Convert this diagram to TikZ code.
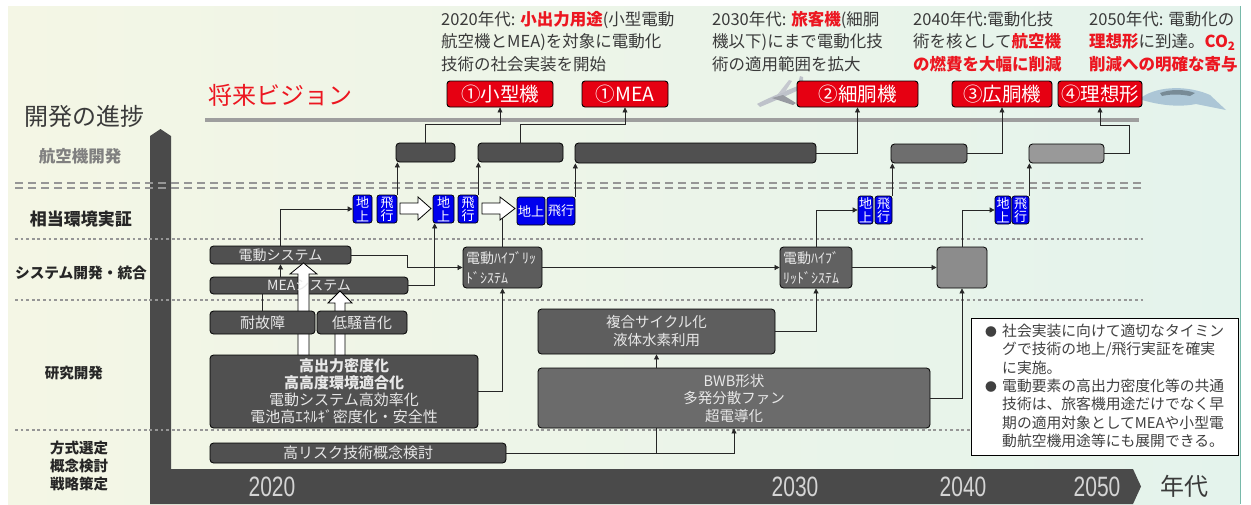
\documentclass[tikz,border=0pt]{standalone}
\usepackage{fontspec}
\setmainfont{Noto Sans CJK JP}
\newfontfamily\yearfont{Liberation Sans}
\usetikzlibrary{arrows.meta}

\definecolor{bgleft}{RGB}{244,246,229}
\definecolor{bgright}{RGB}{228,243,236}
\definecolor{tealedge}{RGB}{120,185,170}
\definecolor{txtdark}{RGB}{58,58,58}
\definecolor{vred}{RGB}{236,22,32}
\definecolor{boxred}{RGB}{230,0,18}
\definecolor{vblue}{RGB}{0,0,238}
\definecolor{boxgray}{RGB}{80,80,80}
\definecolor{boxtxt}{RGB}{232,232,232}
\definecolor{axisgray}{RGB}{74,74,74}
\definecolor{sepgray}{RGB}{150,150,150}
\definecolor{planegray}{RGB}{190,194,202}
\definecolor{planeblue}{RGB}{172,198,214}

\tikzset{
  conn/.style={draw=black!85, line width=0.7pt, -{Triangle[length=5pt,width=5pt]}},
  link/.style={draw=black!85, line width=0.7pt},
  gbox/.style={draw=black, line width=0.8pt, rounded corners=3.5pt, fill=boxgray,
    text=boxtxt, inner sep=0pt, align=center, font=\fontsize{15}{17}\selectfont},
  redbox/.style={draw=black, line width=0.9pt, rounded corners=3pt, fill=boxred,
    text=white, inner sep=0pt, minimum height=26pt, font=\fontsize{19.5}{19.5}\selectfont},
  bluebox/.style={draw=black, line width=0.7pt, rounded corners=2.5pt, fill=vblue,
    text=white, inner sep=0pt, align=center, minimum height=28pt,
    font=\fontsize{13}{13.5}\selectfont},
  hollow/.style={draw=black, line width=0.8pt, fill=white},
  toptext/.style={anchor=north west, inner sep=0pt, align=left, text=txtdark,
    font=\fontsize{16.5}{22.5}\selectfont},
  rowlabel/.style={inner sep=0pt, align=center, text=black!85,
    font=\bfseries\fontsize{15}{18}\selectfont},
  yearlabel/.style={inner sep=0pt, text=black!17, font=\yearfont\fontsize{28}{28}\selectfont},
  dashsep/.style={draw=sepgray, line width=2.2pt, dash pattern=on 8pt off 5pt},
  dotsep/.style={draw=sepgray, line width=2.8pt, dash pattern=on 2.8pt off 2.8pt},
}

\begin{document}
\begin{tikzpicture}[x=1pt,y=-1pt]
\useasboundingbox (0,0) rectangle (1251,504);
% background
\fill[white] (0,0) rectangle (1251,504);
\shade[left color=bgleft, right color=bgright] (8,6) rectangle (1240,504);
\draw[tealedge, line width=1.5pt] (1240.5,6) -- (1240.5,504);

% time axis
\fill[axisgray] (150,136) -- (160.5,129) -- (171,136) -- (171,469) -- (1133,469)
  -- (1141,486.5) -- (1133,504) -- (150,504) -- cycle;

% row separators
\draw[dashsep] (15,183) -- (1143,183);
\draw[dashsep] (15,188) -- (1143,188);
\draw[dotsep] (15,239) -- (1143,239);
\draw[dotsep] (15,300) -- (1143,300);
\draw[dotsep] (15,430) -- (1143,430);

% vision line
\draw[black!38, line width=4pt] (205,120) -- (1139,120);

% headings on the left
\node[inner sep=0pt, text=txtdark, font=\fontsize{24}{24}\selectfont] (title) at (84,116) {開発の進捗};
\node[rowlabel, text=black!50, font=\bfseries\fontsize{16.5}{18}\selectfont] (lab1) at (80,156) {航空機開発};
\node[rowlabel, font=\bfseries\fontsize{17}{18}\selectfont] (lab2) at (81,219) {相当環境実証};
\node[rowlabel, font=\bfseries\fontsize{14.7}{18}\selectfont] (lab3) at (81,273) {システム開発・統合};
\node[rowlabel, font=\bfseries\fontsize{14.5}{18}\selectfont] (lab4) at (74,373) {研究開発};
\node[rowlabel, font=\bfseries\fontsize{14.5}{18}\selectfont] (lab5) at (79,466) {方式選定\\概念検討\\戦略策定};

% years
\node[yearlabel] (y2020) at (272,487) {\scalebox{0.75}[1]{2020}};
\node[yearlabel] (y2030) at (795,487) {\scalebox{0.75}[1]{2030}};
\node[yearlabel] (y2040) at (963,487) {\scalebox{0.75}[1]{2040}};
\node[yearlabel] (y2050) at (1097,487) {\scalebox{0.75}[1]{2050}};
\node[inner sep=0pt, text=txtdark, font=\fontsize{24}{24}\selectfont] (nendai) at (1184,486) {年代};

% future vision
\node[inner sep=0pt, text=vred, font=\fontsize{24}{24}\selectfont] (vision) at (280,95) {将来ビジョン};

\node[toptext] (t2020) at (441,11) {2020年代: \textcolor{vred}{\bfseries 小出力用途}(小型電動\\航空機とMEA)を対象に電動化\\技術の社会実装を開始};
\node[toptext] (t2030) at (712,11) {2030年代: \textcolor{vred}{\bfseries 旅客機}(細胴\\機以下)にまで電動化技\\術の適用範囲を拡大};
\node[toptext] (t2040) at (913,11) {2040年代:電動化技\\術を核として\textcolor{vred}{\bfseries 航空機}\\\textcolor{vred}{\bfseries の燃費を大幅に削減}};
\node[toptext] (t2050) at (1089,11) {2050年代: 電動化の\\\textcolor{vred}{\bfseries 理想形}に到達。\textcolor{vred}{\bfseries CO\textsubscript{2}}\\\textcolor{vred}{\bfseries 削減への明確な寄与}};

% aircraft silhouettes
\fill[planegray] (757,104) .. controls (770,97) and (790,89) .. (803,84) -- (805,87)
  .. controls (791,94) and (772,102) .. (760,107) -- cycle;
\fill[planegray!80!black] (772,98) -- (793,105) -- (796,103) -- (783,95) -- cycle;
\fill[planegray!90!white] (778,94) -- (789,80) -- (792,81) -- (785,92) -- cycle;
\fill[planegray] (797,87) -- (800,76) -- (803,77) -- (803,86) -- cycle;
\fill[planeblue] (1142,97) .. controls (1160,85) and (1190,86) .. (1210,95)
  -- (1226,110) -- (1196,104) .. controls (1176,108) and (1156,104) .. (1142,100) -- cycle;
\fill[planeblue!70!black] (1160,93) .. controls (1170,89) and (1185,89) .. (1195,93)
  -- (1190,96) .. controls (1180,94) and (1170,94) .. (1162,96) -- cycle;

% vision targets
\node[redbox, minimum width=106pt] (r1) at (500,94) {①小型機};
\node[redbox, minimum width=86pt] (r2) at (625,94) {①MEA};
\node[redbox, minimum width=121pt] (r3) at (857.5,94) {②細胴機};
\node[redbox, minimum width=100pt] (r4) at (1002,94) {③広胴機};
\node[redbox, minimum width=84pt] (r5) at (1100,94) {④理想形};

% aircraft development
\node[gbox, minimum width=59pt, minimum height=19pt] (ac1) at (425.5,152.5) {};
\node[gbox, minimum width=85pt, minimum height=19pt] (ac2) at (520.5,152.5) {};
\node[gbox, minimum width=241pt, minimum height=20pt] (ac3) at (695.5,153) {};
\node[gbox, fill=black!57, minimum width=76pt, minimum height=19pt] (ac4) at (929,153.5) {};
\node[gbox, fill=black!40, minimum width=75pt, minimum height=19pt] (ac5) at (1066.5,153.5) {};

% ground and flight demonstrations
\node[bluebox, minimum width=19pt] (b1a) at (362.5,209) {地\\上};
\node[bluebox, minimum width=20pt] (b1b) at (387,209) {飛\\行};
\node[bluebox, minimum width=21pt] (b2a) at (443.5,209) {地\\上};
\node[bluebox, minimum width=20pt] (b2b) at (468,209) {飛\\行};
\node[bluebox, minimum width=28pt] (b3a) at (531,211) {地上};
\node[bluebox, minimum width=28pt] (b3b) at (561,211) {飛行};
\node[bluebox, minimum width=15pt] (b4a) at (865.5,210) {地\\上};
\node[bluebox, minimum width=17pt] (b4b) at (883.5,210) {飛\\行};
\node[bluebox, minimum width=16pt] (b5a) at (1003,210) {地\\上};
\node[bluebox, minimum width=17pt] (b5b) at (1020.5,210) {飛\\行};

% system development and integration
\node[gbox, minimum width=141pt, minimum height=18pt, font=\fontsize{14}{16}\selectfont] (es) at (280.5,255) {電動システム};
\node[gbox, minimum width=198pt, minimum height=17pt] (mea) at (309,285.5) {};
\node[gbox, fill=black!64, minimum height=41pt, inner xsep=3pt, text width=73pt, align=left,
  font=\fontsize{14}{20}\selectfont] (hy1) at (502.5,267.5) {電動ﾊｲﾌﾞﾘｯ\\ﾄﾞｼｽﾃﾑ};
\node[gbox, fill=black!62, minimum height=41pt, inner xsep=3pt, text width=66pt, align=left,
  font=\fontsize{14}{20}\selectfont] (hy2) at (816,267.5) {電動ﾊｲﾌﾞ\\ﾘｯﾄﾞｼｽﾃﾑ};
\node[gbox, fill=black!45, minimum width=50pt, minimum height=41pt] (gb) at (962,267.5) {};

% connectors that run under the hollow arrows
\draw[link] (hy1.north) -- (502.5,212);

% hollow arrows
\filldraw[hollow] (400,203) -- (418,203) -- (418,197) -- (431,208.5) -- (418,220) -- (418,214) -- (400,214) -- cycle;
\filldraw[hollow] (482,203) -- (500,203) -- (500,197) -- (515,208.5) -- (500,220) -- (500,214) -- (482,214) -- cycle;
\filldraw[hollow] (298,357) -- (298,274) -- (290,274) -- (303.5,263) -- (317,274) -- (309,274) -- (309,357) -- cycle;
\filldraw[hollow] (335,357) -- (335,303) -- (328,303) -- (340,291) -- (352,303) -- (345,303) -- (345,357) -- cycle;

% label of the MEA system box, set above the hollow arrow
\node[inner sep=0pt, text=boxtxt, font=\fontsize{14}{16}\selectfont] (mealabel) at (mea) {MEAシステム};

% research and development
\node[gbox, minimum width=105pt, minimum height=23pt] (tk) at (262.5,322.5) {耐故障};
\node[gbox, minimum width=90pt, minimum height=23pt] (ls) at (362,322.5) {低騒音化};
\node[gbox, minimum width=268pt, minimum height=73pt] (hp) at (344,391.5)
  {{\bfseries 高出力密度化}\\{\bfseries 高高度環境適合化}\\電動システム高効率化\\電池高ｴﾈﾙｷﾞ密度化・安全性};
\node[gbox, fill=black!63, minimum width=237pt, minimum height=45pt, font=\fontsize{14.5}{18}\selectfont] (fc) at (656.5,331.5)
  {複合サイクル化\\液体水素利用};
\node[gbox, fill=black!58, minimum width=392pt, minimum height=60pt, font=\fontsize{14.5}{17.5}\selectfont] (bwb) at (734,398)
  {BWB形状\\多発分散ファン\\超電導化};
\node[gbox, minimum width=296pt, minimum height=20pt] (hr) at (358,453) {高リスク技術概念検討};

% note
\node[draw=black, line width=1pt, fill=white, inner sep=0pt, anchor=north west,
  minimum width=267pt, minimum height=137pt] (note) at (971,318) {};
\node[anchor=north west, inner sep=0pt, align=left, text=black!75,
  font=\fontsize{14.8}{18.3}\selectfont] (notetxt) at (984,324)
  {\makebox[18pt][l]{\hspace{1pt}\scalebox{0.8}{●}}社会実装に向けて適切なタイミン\\
   \hspace*{18pt}グで技術の地上/飛行実証を確実\\
   \hspace*{18pt}に実施。\\
   \makebox[18pt][l]{\hspace{1pt}\scalebox{0.8}{●}}電動要素の高出力密度化等の共通\\
   \hspace*{18pt}技術は、旅客機用途だけでなく早\\
   \hspace*{18pt}期の適用対象としてMEAや小型電\\
   \hspace*{18pt}動航空機用途等にも展開できる。};

% connectors: aircraft development to vision targets
\draw[conn] (ac1.north) -- ++(0,-18) -| (r1.south);
\draw[conn] (ac2.north) -- ++(0,-18) -| (r2.south);
\draw[conn] (ac3.east) -| (r3.south);
\draw[conn] (ac4.east) -| (r4.south);
\draw[conn] (ac5.east) -- (1129,153.5) -- (1129,125) -| (r5.south);

% connectors: demonstrations to aircraft development
\draw[conn] (b1b.north east) -- (b1b.north east |- ac1.south);
\draw[conn] (b2b.north east) -- (b2b.north east |- ac2.south);
\draw[conn] (b3b.north east) -- (b3b.north east |- ac3.south);
\draw[conn] (b4b.north east) -- (b4b.north east |- ac4.south);
\draw[conn] (b5b.north east) -- (b5b.north east |- ac5.south);

% connectors: systems to demonstrations
\draw[conn] (es.north) |- (b1a.west);
\draw[conn] (mea.east) -| ([xshift=2pt]b2a.south west);
\draw[conn] (hy2.north) |- (b4a.west);
\draw[conn] (gb.north) |- (b5a.west);

% connectors: within systems
\draw[conn] (es.east) -- (407,255) -- (407,267.5) -- (hy1.west);
\draw[conn] (hy1.east) -- (hy2.west);
\draw[conn] (hy2.east) -- (gb.west);
\draw[conn] (es.south |- mea.north) -- (es.south);
\draw[link] (tk.north) -- (tk.north |- mea.south);

% connectors: research to systems
\draw[conn] (hp.east) -| (hy1.south);
\draw[conn] (fc.east) -| (hy2.south);
\draw[conn] (bwb.east) -| (gb.south);
\draw[conn] (fc.south |- bwb.north) -- (fc.south);
\draw[conn] (hr.east) -| (bwb.south);
\coordinate (branch) at (fc.south |- hr.east);
\draw[link] (branch) -- (branch |- bwb.south);

\end{tikzpicture}
\end{document}
